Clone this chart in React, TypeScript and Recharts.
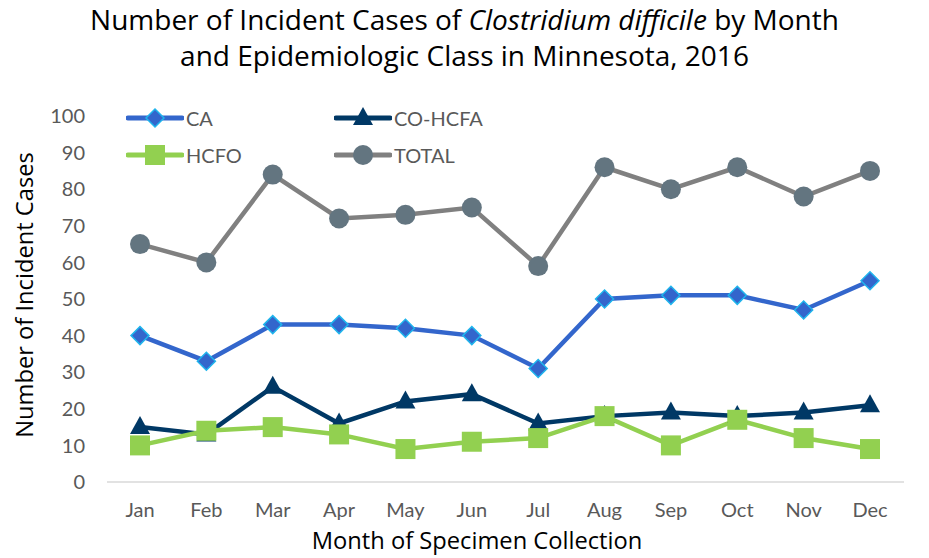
import React from "react";
import { LineChart, Line, XAxis, YAxis } from "recharts";

const months = ["Jan", "Feb", "Mar", "Apr", "May", "Jun", "Jul", "Aug", "Sep", "Oct", "Nov", "Dec"];
const ca = [40, 33, 43, 43, 42, 40, 31, 50, 51, 51, 47, 55];
const coHcfa = [15, 13, 26, 16, 22, 24, 16, 18, 19, 18, 19, 21];
const hcfo = [10, 14, 15, 13, 9, 11, 12, 18, 10, 17, 12, 9];
const total = [65, 60, 84, 72, 73, 75, 59, 86, 80, 86, 78, 85];
const yTicks = [0, 10, 20, 30, 40, 50, 60, 70, 80, 90, 100];

const data = months.map((m, i) => ({
  month: m,
  CA: ca[i],
  "CO-HCFA": coHcfa[i],
  HCFO: hcfo[i],
  TOTAL: total[i],
}));

const C_CA = "#3366cc";
const C_CA_EDGE = "#1fb4ec";
const C_CO = "#003865";
const C_HC = "#92d050";
const C_TOT = "#808080";
const C_TOT_DOT = "#637580";

const tickFont = { fontFamily: "Lato", fontSize: 20, fill: "#595959" };
const titleFont = "'Open Sans'";

const Diamond = (cx: number, cy: number, key?: any) => (
  <polygon key={key} points={`${cx},${cy - 9} ${cx + 9},${cy} ${cx},${cy + 9} ${cx - 9},${cy}`} fill={C_CA} stroke={C_CA_EDGE} strokeWidth={1.5} />
);
const Tri = (cx: number, cy: number, key?: any) => (
  <polygon key={key} points={`${cx},${cy - 11} ${cx + 10},${cy + 7} ${cx - 10},${cy + 7}`} fill={C_CO} />
);
const Sq = (cx: number, cy: number, key?: any) => (
  <rect key={key} x={cx - 10} y={cy - 10} width={20} height={20} fill={C_HC} />
);
const Circ = (cx: number, cy: number, key?: any) => (
  <circle key={key} cx={cx} cy={cy} r={10} fill={C_TOT_DOT} />
);

const mk = (f: any) => (p: any) => f(p.cx, p.cy, p.key ?? `${p.index}`);

const legendItems = [
  { name: "CA", color: C_CA, m: Diamond, x: 0, y: 0 },
  { name: "CO-HCFA", color: C_CO, m: Tri, x: 208, y: 0 },
  { name: "HCFO", color: C_HC, m: Sq, x: 0, y: 37 },
  { name: "TOTAL", color: C_TOT, m: Circ, x: 208, y: 37 },
];

export default function App() {
  return (
    <div style={{ position: "absolute", left: 0, top: 0, width: 929, height: 558, background: "#fff" }}>
      <div
        style={{
          position: "absolute",
          left: 0,
          top: 1,
          width: 929,
          textAlign: "center",
          fontFamily: titleFont,
          fontSize: 28,
          lineHeight: "36px",
          color: "#000",
        }}
      >
        <div>
          Number of Incident Cases of <i>Clostridium difficile</i> by Month
        </div>
        <div>and Epidemiologic Class in Minnesota, 2016</div>
      </div>
      <div
        style={{
          position: "absolute",
          left: 24,
          top: 295,
          transform: "translate(-50%, -50%) rotate(-90deg)",
          whiteSpace: "nowrap",
          fontFamily: titleFont,
          fontSize: 23.7,
          color: "#000",
        }}
      >
        Number of Incident Cases
      </div>
      <div
        style={{
          position: "absolute",
          left: 477,
          top: 540,
          transform: "translate(-50%, -50%)",
          whiteSpace: "nowrap",
          fontFamily: titleFont,
          fontSize: 23.7,
          color: "#000",
        }}
      >
        Month of Specimen Collection
      </div>
      <div style={{ position: "absolute", left: 0, top: 0 }}>
        <LineChart width={929} height={558} data={data} margin={{ top: 116, right: 25, left: 47, bottom: 26 }}>
          <XAxis
            dataKey="month"
            axisLine={{ stroke: "#d9d9d9", strokeWidth: 1.5 }}
            tickLine={false}
            tick={tickFont}
            tickMargin={15}
            height={50}
            interval={0}
            padding={{ left: 33, right: 34 }}
          />
          <YAxis
            domain={[0, 100]}
            ticks={yTicks}
            axisLine={false}
            tickLine={false}
            tick={tickFont}
            tickMargin={16}
            width={60}
            interval={0}
          />
          <Line dataKey="CA" stroke={C_CA} strokeWidth={4.5} dot={mk(Diamond)} activeDot={false} isAnimationActive={false} />
          <Line dataKey="CO-HCFA" stroke={C_CO} strokeWidth={4.5} dot={mk(Tri)} activeDot={false} isAnimationActive={false} />
          <Line dataKey="HCFO" stroke={C_HC} strokeWidth={4.5} dot={mk(Sq)} activeDot={false} isAnimationActive={false} />
          <Line dataKey="TOTAL" stroke={C_TOT} strokeWidth={4.5} dot={mk(Circ)} activeDot={false} isAnimationActive={false} />
        </LineChart>
      </div>
      <div style={{ position: "absolute", left: 126, top: 106, width: 400, height: 80 }}>
        {legendItems.map((it) => (
          <div key={it.name} style={{ position: "absolute", left: it.x, top: it.y, display: "flex", alignItems: "center" }}>
            <svg width={58} height={24}>
              <line x1={2} y1={12} x2={56} y2={12} stroke={it.color} strokeWidth={5} strokeLinecap="round" />
              {it.m(29, 12)}
            </svg>
            <span style={{ fontFamily: "Lato", fontSize: 20, color: "#595959", marginLeft: 2 }}>{it.name}</span>
          </div>
        ))}
      </div>
    </div>
  );
}
